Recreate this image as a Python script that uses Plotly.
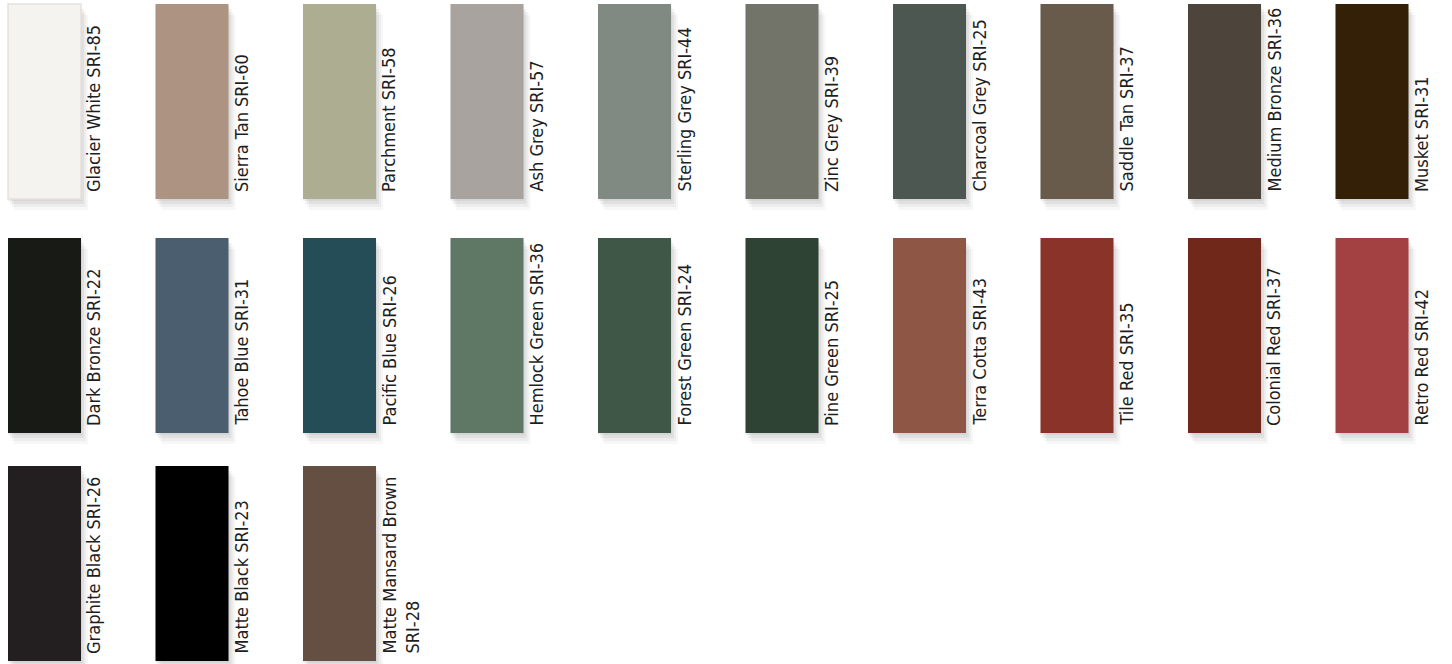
import plotly.graph_objects as go

names = ["Glacier White", "Sierra Tan", "Parchment", "Ash Grey", "Sterling Grey",
         "Zinc Grey", "Charcoal Grey", "Saddle Tan", "Medium Bronze", "Musket",
         "Dark Bronze", "Tahoe Blue", "Pacific Blue", "Hemlock Green", "Forest Green",
         "Pine Green", "Terra Cotta", "Tile Red", "Colonial Red", "Retro Red",
         "Graphite Black", "Matte Black", "Matte Mansard Brown"]
sri = [85, 60, 58, 57, 44, 39, 25, 37, 36, 31,
       22, 31, 26, 36, 24, 25, 43, 35, 37, 42,
       26, 23, 28]
colors = ["#F4F3F0", "#AD9482", "#ADAD92", "#A8A39E", "#808A82",
          "#72746A", "#4C5751", "#685B4C", "#4D453B", "#342006",
          "#171A15", "#4A5E6F", "#254D58", "#5F7866", "#3F5746",
          "#2E4334", "#8E5645", "#8A3328", "#6F281A", "#A34042",
          "#231F20", "#000000", "#654F43"]
line_breaks = {"Matte Mansard Brown": True}

W, H = 1452, 664
COLS = 10
x_start, x_step, sw_w = 8, 147.5, 73
row_tops = [4, 238, 466]
sw_h = 195

fig = go.Figure()
shapes = []
annotations = []
for i, (n, s, c) in enumerate(zip(names, sri, colors)):
    r, col = divmod(i, COLS)
    x0 = x_start + col * x_step
    x1 = x0 + sw_w
    y0 = row_tops[r]
    y1 = y0 + sw_h
    # soft drop shadow
    for dx, dy, a in [(1, 2, 0.05), (3, 5, 0.05), (5, 8, 0.04), (7, 11, 0.03)]:
        shapes.append(dict(type="rect", xref="x", yref="y", x0=x0 + dx - 1, x1=x1 + dx,
                           y0=y0 + dy, y1=y1 + dy, fillcolor=f"rgba(0,0,0,{a})",
                           line=dict(width=0), layer="below"))
    is_white = n == "Glacier White"
    shapes.append(dict(type="rect", xref="x", yref="y", x0=x0, x1=x1, y0=y0, y1=y1,
                       fillcolor=c,
                       line=dict(color="#E6E1DC" if is_white else c, width=1.5 if is_white else 0),
                       layer="above"))
    label = f"{n}<br>SRI-{s}" if n in line_breaks else f"{n} SRI-{s}"
    annotations.append(dict(x=x1 + 1, y=y1 - 6, xref="x", yref="y", text=label,
                            textangle=-90, showarrow=False, xanchor="left", yanchor="bottom",
                            align="left", borderpad=0,
                            font=dict(family="Liberation Sans Narrow, DejaVu Sans Condensed, sans-serif",
                                      size=18, color="#1e1e1e")))

fig.update_layout(
    width=W, height=H, margin=dict(l=0, r=0, t=0, b=0),
    paper_bgcolor="white", plot_bgcolor="white",
    xaxis=dict(range=[0, W], visible=False, fixedrange=True),
    yaxis=dict(range=[H, 0], visible=False, fixedrange=True),
    shapes=shapes, annotations=annotations, showlegend=False,
)
fig.write_html("out.html", config={"displayModeBar": False},
               post_script="document.body.style.margin='0';document.body.style.overflow='hidden';")
